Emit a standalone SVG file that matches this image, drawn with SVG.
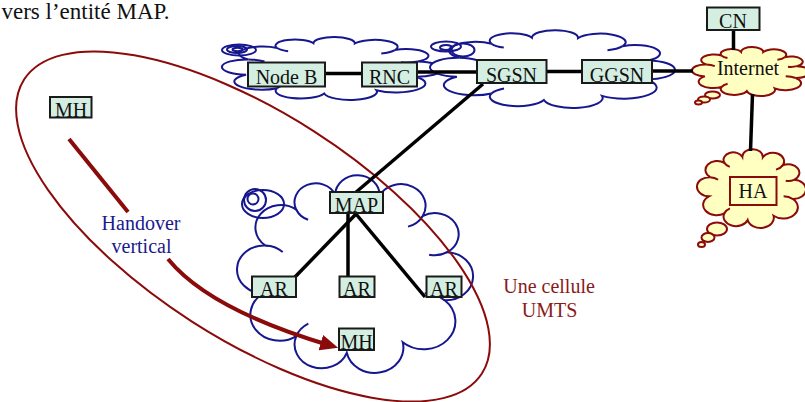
<svg xmlns="http://www.w3.org/2000/svg" xmlns:xlink="http://www.w3.org/1999/xlink" width="805" height="402" viewBox="0 0 805 402">
<style>
  .cloudpath { vector-effect: non-scaling-stroke; }
  .blue { fill: #ffffff; stroke: #16168f; stroke-width: 2; }
  .blueo { fill: none; stroke: #16168f; stroke-width: 2; }
  .yel { fill: #ffffc2; stroke: #8b0a0a; stroke-width: 2; }
  .yelo { fill: none; stroke: #8b0a0a; stroke-width: 2; }
  .box rect { fill: #d4efe2; stroke: #1a1a1a; stroke-width: 2; }
  .box text { font-family: "Liberation Serif", "Times New Roman", serif; font-size: 20px; fill: #111; text-anchor: middle; }
  .hbox rect { fill: #ffffc2; stroke: #8b0a0a; stroke-width: 2; }
  .link { stroke: #000; stroke-width: 3.5; fill: none; }
  .lbl { font-family: "Liberation Serif", "Times New Roman", serif; font-size: 20px; text-anchor: middle; }
</style>
<defs>
  <path id="cloud" class="cloudpath" d="M13.3,61.3 A1,1 0 0 1 14.3,39.7 A1,1 0 0 1 26.6,23.6 A1,1 0 0 1 42.1,16.8 A1,1 0 0 1 59.8,17.2 A1,1 0 0 1 76.9,26.5 A1,1 0 0 1 86.7,42.7 A1,1 0 0 1 85.7,64.3 A1,1 0 0 1 69,83.2 A1,1 0 0 1 46.7,87.9 A1,1 0 0 1 26.6,80.4 A1,1 0 0 1 13.3,61.3 Z"/>
  <path id="cloudin" class="cloudpath" fill="none" d="M14.3,39.7 A10.8,10.8 0 0 1 21.2,42.6 M76.9,26.5 A9.73,9.73 0 0 1 71.1,31.2 M77.7,61.15 A12.6,12.6 0 0 1 85.7,64.3 M26.6,80.4 A10.7,10.7 0 0 1 31.4,74.8 M31.3,28.1 A8.46,8.46 0 0 1 26.6,23.6 M86.7,42.7 A9.47,9.47 0 0 1 79.5,43.8"/>
  <marker id="arr" viewBox="0 -8 18 16" refX="8" refY="0" markerWidth="18" markerHeight="16" markerUnits="userSpaceOnUse" orient="auto">
    <path d="M0,-8 L18,0 L0,8 Z" fill="#8b0a0a"/>
  </marker>
</defs>

<text x="1.5" y="19" font-family="Liberation Serif, Times New Roman, serif" font-size="23" fill="#111">vers l’entité MAP.</text>

<g id="cloud-access">
  <use href="#cloud" class="blue" transform="translate(214.9,31.3) scale(2.34,0.708)"/>
  <use href="#cloudin" class="blueo" transform="translate(214.9,31.3) scale(2.34,0.708)"/>
  <ellipse cx="239" cy="50" rx="17" ry="5.5" class="blueo"/>
  <ellipse cx="237" cy="49.5" rx="10" ry="3.5" class="blueo"/>
  <ellipse cx="237.5" cy="49.5" rx="5" ry="1.8" class="blueo"/>
</g>
<g id="cloud-core">
  <use href="#cloud" class="blue" transform="translate(422.2,23) scale(2.606,0.876)"/>
  <use href="#cloudin" class="blueo" transform="translate(422.2,23) scale(2.606,0.876)"/>
  <ellipse cx="446" cy="46.5" rx="15" ry="5" class="blueo"/>
  <ellipse cx="463" cy="50" rx="11.5" ry="6.5" class="blueo"/>
  <ellipse cx="446" cy="47.5" rx="6" ry="2.5" class="blueo"/>
</g>
<g id="cloud-map">
  <use href="#cloud" class="blue" transform="translate(229.5,157.2) scale(2.511,2.225)"/>
  <use href="#cloudin" class="blueo" transform="translate(229.5,157.2) scale(2.511,2.225)"/>
  <ellipse cx="263" cy="204" rx="21" ry="14" class="blueo"/>
  <circle cx="255" cy="200" r="11" class="blueo"/>
  <circle cx="253" cy="199" r="5.5" class="blueo"/>
</g>

<ellipse id="cellule" cx="253" cy="226.5" rx="272" ry="113" transform="rotate(32.7 253 226.5)" fill="none" stroke="#8b0a0a" stroke-width="2"/>

<g id="internet-cloud">
  <use href="#cloud" class="yel" transform="translate(688.2,42.6) scale(1.255,0.551)"/>
  <use href="#cloudin" class="yelo" transform="translate(688.2,42.6) scale(1.255,0.551)"/>
  <ellipse cx="712.5" cy="95" rx="7.5" ry="3.5" class="yel"/>
  <ellipse cx="704" cy="99.5" rx="6" ry="3" class="yel"/>
  <ellipse cx="698.5" cy="102.5" rx="3.5" ry="2" class="yel"/>
</g>
<g id="ha-cloud">
  <use href="#cloud" class="yel" transform="translate(693.5,141.9) scale(1.16,0.888)"/>
  <use href="#cloudin" class="yelo" transform="translate(693.5,141.9) scale(1.16,0.888)"/>
  <ellipse cx="717" cy="229" rx="10" ry="6.5" class="yel"/>
  <ellipse cx="708" cy="237.5" rx="6.5" ry="4.5" class="yel"/>
  <ellipse cx="701.5" cy="244.5" rx="3.5" ry="2.5" class="yel"/>
</g>

<g id="connectors">
  <line class="link" x1="325" y1="73.5" x2="362" y2="73.5"/>
  <line class="link" x1="417" y1="72" x2="477" y2="72"/>
  <line class="link" x1="546" y1="71.5" x2="582" y2="71.5"/>
  <line class="link" x1="652" y1="71" x2="693" y2="71"/>
  <line class="link" x1="733.5" y1="30" x2="733.5" y2="50"/>
  <line class="link" x1="752.5" y1="94" x2="750.5" y2="151"/>
  <line class="link" x1="483" y1="84" x2="355" y2="193"/>
  <line class="link" x1="356" y1="214" x2="295" y2="277"/>
  <line class="link" x1="348" y1="213" x2="348" y2="277"/>
  <line class="link" x1="356" y1="214" x2="425" y2="297"/>
  <path d="M69,139 L128,212" stroke="#8b0a0a" stroke-width="4" fill="none"/>
  <path d="M168,259 C195,292 248,321 328.5,345" stroke="#8b0a0a" stroke-width="4" fill="none" marker-end="url(#arr)"/>
</g>

<g id="node-b" class="box"><rect x="248" y="62.5" width="77" height="24"/><text x="286.5" y="84">Node B</text></g>
<g id="rnc" class="box"><rect x="362" y="62.5" width="55" height="24"/><text x="389.5" y="84">RNC</text></g>
<g id="sgsn" class="box"><rect x="477" y="60" width="69.5" height="23"/><text x="511.5" y="81.5" font-size="21">SGSN</text></g>
<g id="ggsn" class="box"><rect x="582" y="60" width="70" height="23"/><text x="617" y="81.5" font-size="21">GGSN</text></g>
<g id="cn" class="box"><rect x="707" y="7.5" width="52.5" height="22.5"/><text x="733" y="27.5">CN</text></g>
<g id="internet"><text class="lbl" x="748" y="75" fill="#111">Internet</text></g>
<g id="ha" class="hbox"><rect x="730" y="177" width="46.5" height="28"/><text class="lbl" x="753" y="197.5" fill="#111">HA</text></g>
<g id="map" class="box"><rect x="330" y="192" width="53" height="21"/><text x="356.5" y="211.5">MAP</text></g>
<g id="ar1" class="box"><rect x="252" y="276.5" width="44" height="20.5"/><text x="274" y="295.5">AR</text></g>
<g id="ar2" class="box"><rect x="339.5" y="276.5" width="35" height="20.5"/><text x="357" y="295.5">AR</text></g>
<g id="ar3" class="box"><rect x="426.5" y="276.5" width="35" height="20.5"/><text x="444" y="295.5">AR</text></g>
<g id="mh-old" class="box"><rect x="50" y="97" width="41.5" height="20.5"/><text x="71" y="117" font-size="22">MH</text></g>
<g id="mh-new" class="box"><rect x="339" y="328.5" width="35" height="21.5"/><text x="356.5" y="349">MH</text></g>

<g id="labels">
  <text class="lbl" x="141" y="230" fill="#1a1a8c">Handover</text>
  <text class="lbl" x="141.5" y="253" fill="#1a1a8c">vertical</text>
  <text class="lbl" x="549" y="293" fill="#8b1a1a">Une cellule</text>
  <text class="lbl" x="549.5" y="317" fill="#8b1a1a">UMTS</text>
</g>
</svg>
